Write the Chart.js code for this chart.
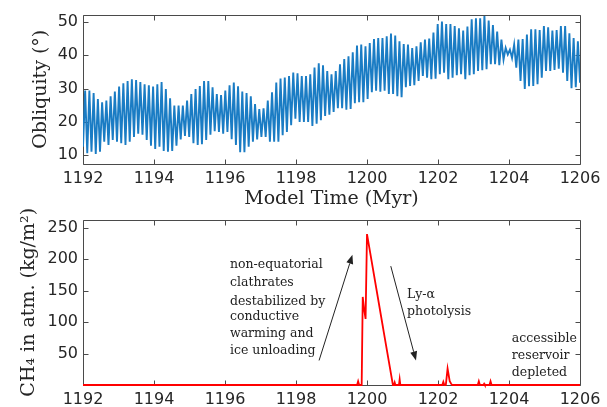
<!DOCTYPE html>
<html>
<head>
<meta charset="utf-8">
<script src="https://cdn.jsdelivr.net/npm/chart.js@4.4.1/dist/chart.umd.min.js"></script>
<style>
  html, body { margin: 0; padding: 0; background: #fff; }
  #wrap { position: relative; width: 607px; height: 407px; }
  .box { position: absolute; left: 0; width: 607px; }
</style>
</head>
<body>
<div id="wrap">
  <div class="box" style="top:0;height:210px"><canvas id="obliq"></canvas></div>
  <div class="box" style="top:205px;height:202px"><canvas id="ch4"></canvas></div>
</div>
<script>
// obliquity: successive minima / maxima of each ~125 kyr cycle
var obliqTroughs = [
  12.6, 10.6, 11.1, 10.4, 11.1, 14.1, 13.1, 14.6, 14.1, 13.6, 13.1, 14.1, 15.5, 16.5, 16.2, 14.6, 12.9, 11.9, 12.6,
  11.3, 11.1, 11.3, 12.9, 14.8, 15.8, 15.5, 13.6, 13.1, 13.3, 14.6, 16.2, 17.2, 17.0, 16.5, 17.0, 14.8, 13.1, 10.9,
  10.9, 12.6, 14.1, 14.8, 15.5, 15.5, 14.1, 14.1, 14.1, 16.0, 17.0, 19.0, 21.0, 20.0, 20.0, 20.0, 18.8, 19.5,
  20.5, 21.8, 22.2, 23.0, 24.1, 24.1, 23.7, 23.9, 25.6, 25.9, 25.9, 26.9, 28.9, 29.4, 29.1, 29.4, 28.4, 28.4, 27.7, 27.4,
  30.4, 30.8, 31.0, 32.3, 33.8, 33.3, 32.8, 33.0, 34.3, 34.8, 32.8, 33.3, 34.0, 34.3, 32.8, 34.0, 34.3, 35.3, 35.5, 35.8, 37.3,
  37.3, 37.0, 38.7, 40.2, 39.2, 36.3, 32.3, 29.9, 30.7, 30.8, 31.3, 33.3, 35.3, 35.3, 35.6, 36.0, 34.8, 32.3, 30.1, 30.4, 31.8
];
var obliqPeaks = [
  29.4, 29.4, 28.7, 26.9, 25.9, 26.4, 27.7, 29.1, 30.6, 31.6, 32.3, 32.8, 32.6, 32.0, 31.3, 31.0, 30.6, 31.3,
  32.0, 29.9, 27.1, 24.9, 24.9, 24.9, 26.4, 28.4, 29.9, 30.8, 32.3, 32.3, 30.4, 28.4, 28.1, 29.4, 31.0, 31.8, 30.7,
  29.1, 28.7, 27.7, 25.4, 23.9, 24.1, 26.4, 28.9, 31.8, 33.0, 33.3, 33.8, 34.8, 34.6, 33.8, 33.8, 34.3, 36.3, 37.6,
  37.0, 35.3, 34.3, 35.3, 37.3, 38.9, 39.7, 40.9, 42.9, 43.2, 42.7, 43.7, 44.9, 45.2, 45.2, 45.7, 46.5, 45.9, 44.2, 43.4,
  43.2, 42.2, 42.7, 43.9, 44.7, 45.0, 46.8, 49.4, 50.1, 49.4, 49.4, 48.8, 48.1, 47.4, 48.6, 50.8, 51.1, 51.1, 51.8, 50.4, 49.1,
  47.1, 44.7, 42.2, 41.7, 43.2, 44.7, 44.9, 46.2, 47.8, 47.8, 47.6, 48.8, 48.4, 47.4, 47.6, 48.8, 48.8, 46.6, 45.2, 44.2
];
var timeStart = 1192, timeEnd = 1206;

// methane in atmosphere (kg/m^2)
var ch4Time = [1192, 1199.72, 1199.75, 1199.78, 1199.85, 1199.88, 1199.92, 1199.96, 1200.0, 1200.44, 1200.47, 1200.73,
  1200.76, 1200.78, 1200.8, 1200.9, 1200.92, 1200.94, 1202.12, 1202.15, 1202.18, 1202.22, 1202.27, 1202.33, 1202.37, 1202.4,
  1203.12, 1203.15, 1203.18, 1203.28, 1203.3, 1203.32, 1203.45, 1203.48, 1203.51, 1206];
var ch4Value = [0, 0, 6, 0, 0, 140, 120, 105, 240, 95, 85, 0,
  0, 4, 0, 0, 9, 0, 0, 5, 0, 0, 26, 6, 2, 0,
  0, 6, 0, 0, 2, 0, 0, 6, 0, 0];

var timeTicks = [1192, 1194, 1196, 1198, 1200, 1202, 1204, 1206];
var obliqTicks = [10, 20, 30, 40, 50];
var ch4Ticks = [50, 100, 150, 200, 250];

// interleave minima and maxima in time order
var obliqPoints = [];
var nObl = obliqTroughs.length + obliqPeaks.length;
for (var i = 0; i < nObl; i++) {
  var t = timeStart + (timeEnd - timeStart) * i / (nObl - 1);
  var v = (i % 2 === 0) ? obliqTroughs[i / 2] : obliqPeaks[(i - 1) / 2];
  obliqPoints.push({ x: t, y: v });
}
var ch4Points = ch4Time.map(function (t, i) { return { x: t, y: ch4Value[i] }; });

var tickFont = { family: 'DejaVu Sans', size: 16 };
var titleFont = { family: 'DejaVu Serif', size: 19 };
var inkColor = '#262626';

// box around the axes with inward ticks, like matlab
var frameTicks = {
  id: 'frameTicks',
  beforeDatasetsDraw: function (chart) {
    var ctx = chart.ctx, a = chart.chartArea;
    var xs = chart.scales.x, ys = chart.scales.y;
    var L = Math.round(a.left) + 0.5, R = Math.round(a.right) + 0.5;
    var T = Math.round(a.top) + 0.5, B = Math.round(a.bottom) + 0.5;
    ctx.save();
    ctx.strokeStyle = '#4a4a4a';
    ctx.lineWidth = 1;
    ctx.beginPath();
    ctx.moveTo(L, T); ctx.lineTo(R, T); ctx.lineTo(R, B); ctx.lineTo(L, B); ctx.closePath();
    xs.ticks.forEach(function (tk) {
      var px = Math.round(xs.getPixelForValue(tk.value)) + 0.5;
      ctx.moveTo(px, B); ctx.lineTo(px, B - 5);
      ctx.moveTo(px, T); ctx.lineTo(px, T + 5);
    });
    ys.ticks.forEach(function (tk) {
      var py = Math.round(ys.getPixelForValue(tk.value)) + 0.5;
      ctx.moveTo(L, py); ctx.lineTo(L + 5, py);
      ctx.moveTo(R, py); ctx.lineTo(R - 5, py);
    });
    ctx.stroke();
    ctx.restore();
  }
};

// text notes and arrows on the methane panel
var noteTexts = [
  { t: 1196.14, v: 191, s: 'non-equatorial' },
  { t: 1196.14, v: 162, s: 'clathrates' },
  { t: 1196.14, v: 133, s: 'destabilized by' },
  { t: 1196.14, v: 109, s: 'conductive' },
  { t: 1196.14, v: 81, s: 'warming and' },
  { t: 1196.14, v: 55, s: 'ice unloading' },
  { t: 1201.13, v: 144, s: 'Ly-\u03b1' },
  { t: 1201.13, v: 117, s: 'photolysis' },
  { t: 1204.08, v: 74, s: 'accessible' },
  { t: 1204.08, v: 46, s: 'reservoir' },
  { t: 1204.08, v: 19, s: 'depleted' }
];
var noteArrows = [
  { t0: 1198.65, v0: 39, t1: 1199.59, v1: 207 },
  { t0: 1200.67, v0: 189, t1: 1201.38, v1: 39 }
];
var notes = {
  id: 'notes',
  afterDatasetsDraw: function (chart) {
    var ctx = chart.ctx, xs = chart.scales.x, ys = chart.scales.y;
    ctx.save();
    ctx.fillStyle = '#222';
    ctx.font = '12.5px "DejaVu Serif"';
    ctx.textAlign = 'left';
    ctx.textBaseline = 'middle';
    noteTexts.forEach(function (n) {
      ctx.fillText(n.s, xs.getPixelForValue(n.t), ys.getPixelForValue(n.v));
    });
    ctx.strokeStyle = '#222';
    ctx.lineWidth = 1;
    noteArrows.forEach(function (a) {
      var x0 = xs.getPixelForValue(a.t0), y0 = ys.getPixelForValue(a.v0);
      var x1 = xs.getPixelForValue(a.t1), y1 = ys.getPixelForValue(a.v1);
      var ang = Math.atan2(y1 - y0, x1 - x0);
      var hl = 9, hw = 3.5;
      var bx = x1 - hl * Math.cos(ang), by = y1 - hl * Math.sin(ang);
      ctx.beginPath();
      ctx.moveTo(x0, y0); ctx.lineTo(bx, by);
      ctx.stroke();
      ctx.beginPath();
      ctx.moveTo(x1, y1);
      ctx.lineTo(bx + hw * Math.sin(ang), by - hw * Math.cos(ang));
      ctx.lineTo(bx - hw * Math.sin(ang), by + hw * Math.cos(ang));
      ctx.closePath();
      ctx.fill();
    });
    ctx.restore();
  }
};

function xScale(showTitle, height) {
  return {
    type: 'linear', min: timeStart, max: timeEnd,
    afterBuildTicks: function (s) { s.ticks = timeTicks.map(function (v) { return { value: v }; }); },
    ticks: { font: tickFont, color: inkColor, padding: 5, maxRotation: 0, callback: function (v) { return String(v); } },
    grid: { display: false, drawTicks: false },
    border: { display: false },
    title: { display: showTitle, text: 'Model Time (Myr)', font: titleFont, color: inkColor, padding: { top: 0, bottom: 0 } },
    afterFit: function (s) { s.height = height; }
  };
}
function yScale(min, max, ticks, title, titlePad) {
  return {
    min: min, max: max,
    afterBuildTicks: function (s) { s.ticks = ticks.map(function (v) { return { value: v }; }); },
    ticks: { font: tickFont, color: inkColor, padding: 5, callback: function (v) { return String(v); } },
    grid: { display: false, drawTicks: false },
    border: { display: false },
    title: { display: true, text: title, font: titleFont, color: inkColor, padding: { top: titlePad, bottom: 0 } },
    afterFit: function (s) { s.width = 83; }
  };
}

new Chart(document.getElementById('obliq'), {
  type: 'line',
  data: {
    datasets: [{
      data: obliqPoints,
      borderColor: '#1a7cc4',
      borderWidth: 1.9,
      pointRadius: 0,
      tension: 0
    }]
  },
  options: {
    responsive: true,
    maintainAspectRatio: false,
    animation: false,
    layout: { padding: { left: 0, right: 27, top: 13, bottom: 0 } },
    plugins: { legend: { display: false }, tooltip: { enabled: false } },
    scales: {
      x: xScale(true, 46),
      y: yScale(7.4, 52.2, obliqTicks, 'Obliquity (\u00b0)', 30)
    }
  },
  plugins: [frameTicks]
});

new Chart(document.getElementById('ch4'), {
  type: 'line',
  data: {
    datasets: [{
      data: ch4Points,
      borderColor: '#FF0000',
      borderWidth: 1.8,
      pointRadius: 0,
      tension: 0,
      clip: false
    }]
  },
  options: {
    responsive: true,
    maintainAspectRatio: false,
    animation: false,
    layout: { padding: { left: 0, right: 27, top: 10, bottom: 0 } },
    plugins: { legend: { display: false }, tooltip: { enabled: false } },
    scales: {
      x: xScale(false, 22),
      y: yScale(0, 263, ch4Ticks, 'CH\u2084 in atm. (kg/m\u00b2)', 18)
    }
  },
  plugins: [frameTicks, notes]
});
</script>
</body>
</html>
